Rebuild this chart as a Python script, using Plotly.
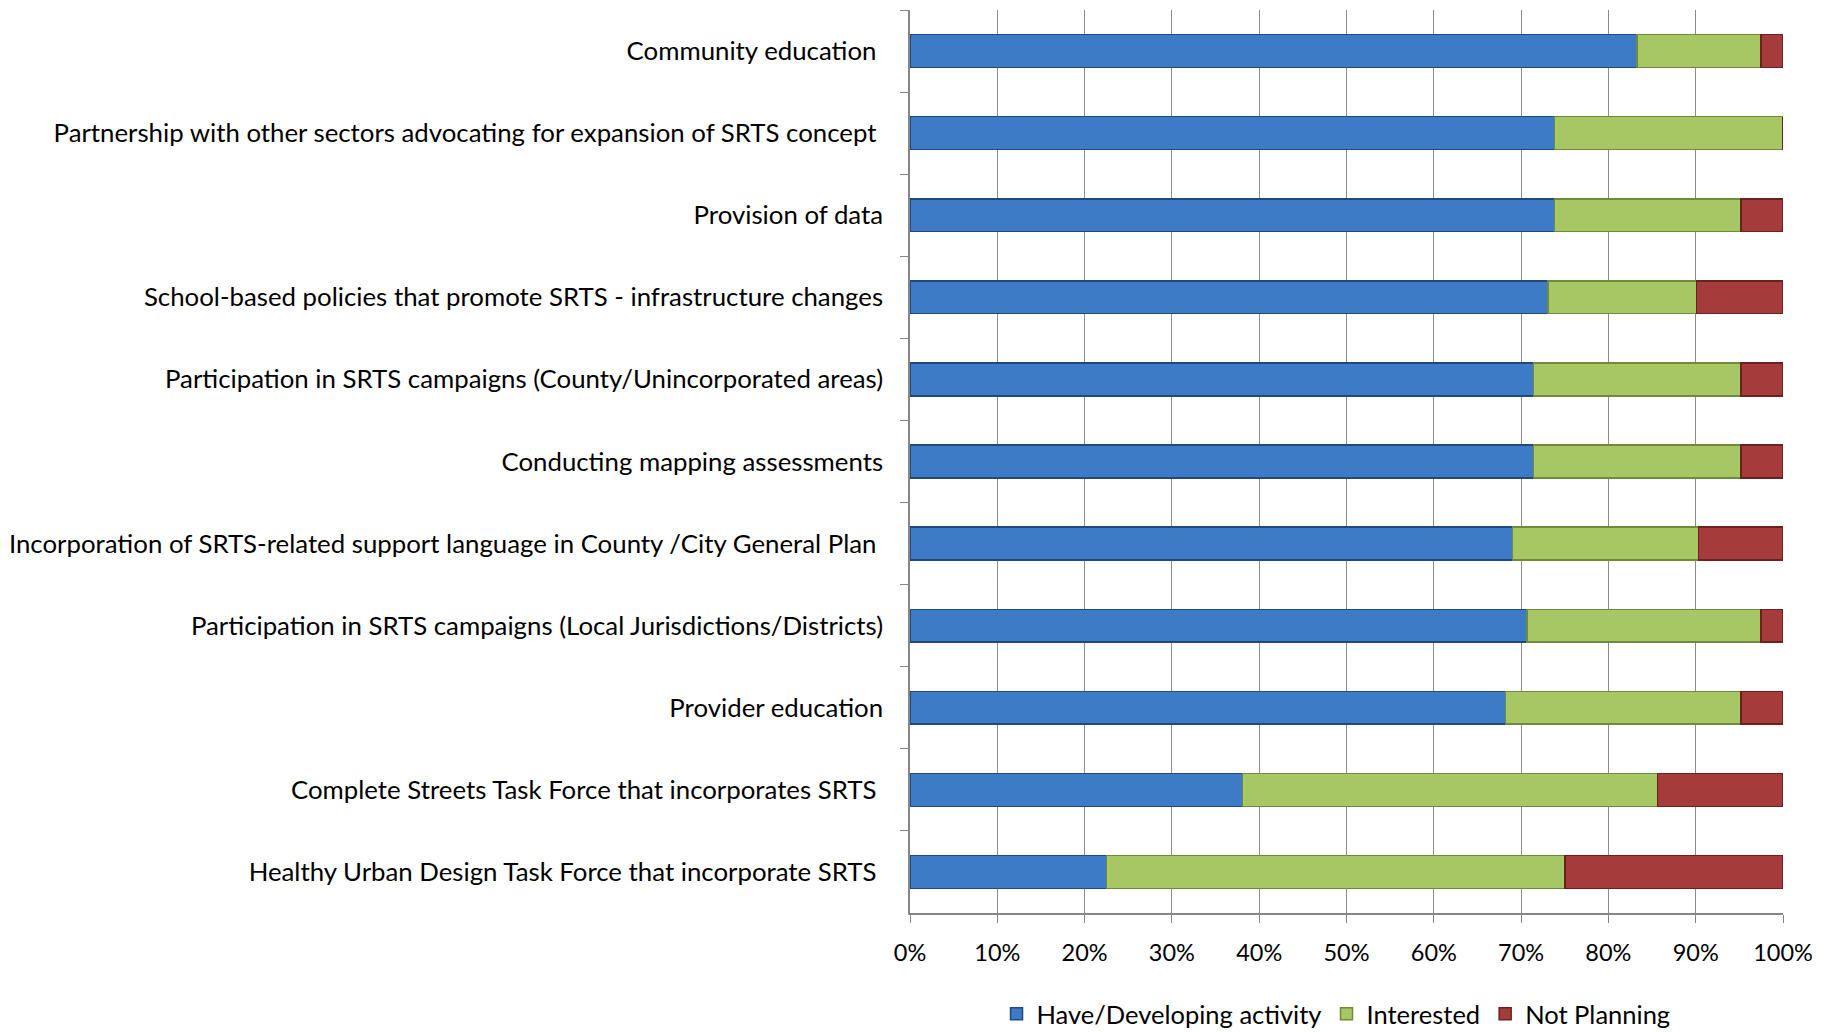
import plotly.graph_objects as go

categories = [
    "Community education\u00a0",
    "Partnership with other sectors advocating for expansion of SRTS concept\u00a0",
    "Provision of data",
    "School-based policies that promote SRTS - infrastructure changes",
    "Participation in SRTS campaigns (County/Unincorporated areas)",
    "Conducting mapping assessments",
    "Incorporation of SRTS-related support language in County /City General Plan\u00a0",
    "Participation in SRTS campaigns (Local Jurisdictions/Districts)",
    "Provider education",
    "Complete Streets Task Force that incorporates SRTS\u00a0",
    "Healthy Urban Design Task Force that incorporate SRTS\u00a0",
]
have_developing = [83.3, 73.8, 73.8, 73.1, 71.4, 71.4, 69.0, 70.7, 68.2, 38.1, 22.5]
interested = [14.2, 26.2, 21.4, 17.0, 23.8, 23.8, 21.3, 26.8, 27.0, 47.5, 52.5]
not_planning = [2.5, 0.0, 4.8, 9.9, 4.8, 4.8, 9.7, 2.5, 4.8, 14.4, 25.0]

series = [
    ("Have/Developing activity", have_developing, "#3D7BC6", "#23497A"),
    ("Interested", interested, "#A6C763", "#6E8A3A"),
    ("Not Planning", not_planning, "#A53C3B", "#6A2221"),
]

FONT = "Lato"

fig = go.Figure()
for name, vals, col, edge in series:
    fig.add_trace(go.Bar(
        y=categories, x=vals, name=name, orientation="h",
        marker=dict(color=col, line=dict(color=edge, width=1.5)),
    ))

fig.update_layout(
    barmode="stack",
    bargap=0.6,
    width=1831, height=1032,
    margin=dict(l=902, r=56, t=2, b=118),
    paper_bgcolor="white", plot_bgcolor="white",
    font=dict(family=FONT, size=25, color="#000000"),
    legend=dict(orientation="h", x=0.488, xanchor="center", y=-0.112, yanchor="middle",
                font=dict(family=FONT, size=25.5), traceorder="normal"),
    showlegend=True,
)
fig.update_xaxes(
    range=[0, 100], tickvals=list(range(0, 101, 10)),
    ticktext=[f"{v}%" for v in range(0, 101, 10)],
    showgrid=True, gridcolor="#8C8C8C", gridwidth=1.3,
    showline=True, linecolor="#868686", linewidth=1.5,
    ticks="outside", ticklen=8, tickcolor="#868686",
    ticklabelstandoff=10,
    tickfont=dict(family=FONT, size=23.5), zeroline=False,
)
fig.update_yaxes(
    autorange="reversed", type="category",
    showline=True, linecolor="#868686", linewidth=1.5,
    ticks="outside", ticklen=8, tickcolor="#868686", tickson="boundaries",
    ticklabelstandoff=20,
    tickfont=dict(family=FONT, size=25.8), showgrid=False,
)
fig.write_html("out.html")
